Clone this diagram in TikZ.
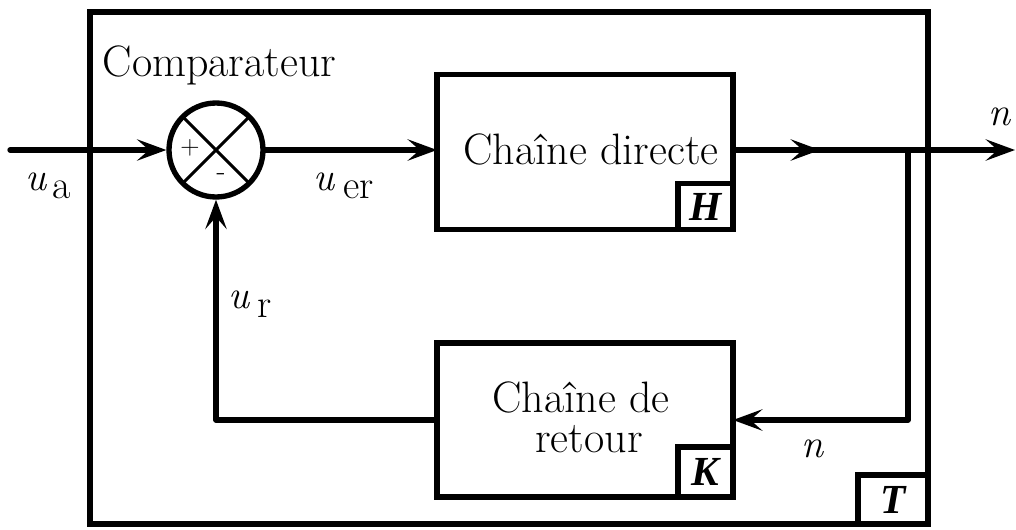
\documentclass[tikz,border=0pt]{standalone}
\usepackage{fontspec}
\newfontfamily\boldital{Liberation Serif}
\usetikzlibrary{arrows.meta}
\begin{document}
\begin{tikzpicture}[x=0.75pt,y=-0.75pt,
  line width=4pt,
  blk/.style={draw, line width=4pt, inner sep=0pt, outer sep=0pt, rectangle},
  tag/.style={blk, anchor=south east, font=\boldital\bfseries\itshape\fontsize{31}{31}\selectfont},
  arr/.style={-{Stealth[length=22pt,width=16pt,inset=9pt]}},
  txt/.style={font=\fontsize{33}{34}\selectfont, inner sep=0pt, anchor=base},
  sym/.style={font=\fontsize{30}{31}\selectfont, inner sep=0pt, anchor=base west},
  wire/.style={line width=4pt, line cap=round, line join=round}]
\useasboundingbox (0,0) rectangle (1016,529);

% blocks
\node[blk, minimum width=628.5pt, minimum height=384pt] (T) at (509,268) {};
\node[blk, minimum width=222pt, minimum height=116.25pt] (H) at (585,152) {};
\node[blk, minimum width=222pt, minimum height=115.5pt] (K) at (585,420) {};
\node[tag, minimum width=41.25pt, minimum height=34.5pt] (Hs) at (H.south east) {H};
\node[tag, minimum width=41.25pt, minimum height=37.5pt] (Ks) at (K.south east) {K};
\node[tag, minimum width=52.5pt, minimum height=36.75pt] (Ts) at (T.south east) {T};

% comparator
\node[circle, draw, line width=4pt, minimum size=70.5pt, inner sep=0pt] (C) at (216,150) {};
\draw[line width=2.2pt] (C.center) ++(45:46) -- ++(225:92);
\draw[line width=2.2pt] (C.center) ++(135:46) -- ++(315:92);
\node[font=\fontsize{20}{20}\selectfont, inner sep=0pt] (plus) at (190,148) {+};
\node[font=\fontsize{22}{22}\selectfont, inner sep=0pt] (minus) at (221,177) {-};

% connectors
\coordinate (in) at (10,150);
\coordinate (mid) at (820,150);
\coordinate (junc) at (908,150);
\coordinate (out) at (1015,150);
\draw[wire, arr] (in) -- (C.west);
\draw[wire, arr] (C.east) -- (H.west |- C.east);
\draw[wire, arr] (H.east |- C.east) -- (out);
\draw[wire, arr] (H.east |- C.east) -- (mid);
\draw[wire, arr] (junc) |- (K.east);
\draw[wire, arr] (K.west) -| (C.south);

% texts
\node[txt, anchor=base west] (lcomp) at (100,76) {Comparateur};
\node[txt] (lH) at (591,164) {Chaîne directe};
\node[txt] (lK1) at (581,412) {Chaîne de};
\node[txt] (lK2) at (589,452) {retour};
\node[sym] (lua) at (23,190) {\textit{u}\hspace{4pt}\raisebox{-6pt}{a}};
\node[sym] (luer) at (311,190) {\textit{u}\hspace{6pt}\raisebox{-6pt}{er}};
\node[sym] (lur) at (226,308) {\textit{u}\hspace{5pt}\raisebox{-6.75pt}{r}};
\node[sym] (ln1) at (986,125) {\textit{n}};
\node[sym] (ln2) at (799,457) {\textit{n}};
\end{tikzpicture}
\end{document}
